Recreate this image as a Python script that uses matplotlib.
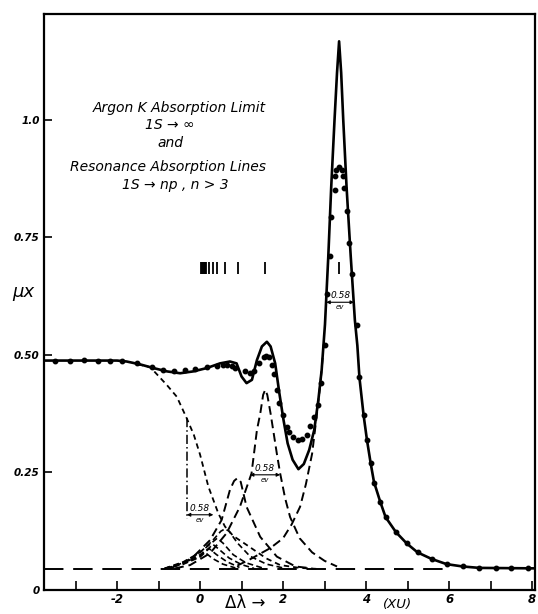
import numpy as np
import matplotlib
matplotlib.use("Agg")
import matplotlib.pyplot as plt

# ---------------- data (x in XU, y = mu x) ----------------
# fitted total curve (solid)
solid_x = [-3.76, -2.0, -1.77, -1.45, -1.12, -0.80, -0.48, -0.16, 0.16, 0.48, 0.72, 0.88,
           1.00, 1.12, 1.25, 1.37, 1.49, 1.61, 1.70, 1.81, 1.91, 2.01, 2.11, 2.23, 2.37,
           2.50, 2.63, 2.75, 2.85, 2.93, 3.01, 3.09, 3.16, 3.24, 3.30, 3.35, 3.40, 3.45,
           3.53, 3.63, 3.73, 3.79, 3.84, 3.94, 4.02, 4.11, 4.19, 4.34, 4.47, 4.72, 4.98,
           5.24, 5.58, 5.94, 6.33, 6.73, 8.07]
solid_y = [0.488, 0.488, 0.486, 0.480, 0.472, 0.465, 0.461, 0.465, 0.472, 0.482, 0.486, 0.482,
           0.454, 0.440, 0.447, 0.489, 0.518, 0.528, 0.518, 0.482, 0.419, 0.362, 0.312, 0.277, 0.257,
           0.268, 0.298, 0.340, 0.404, 0.468, 0.565, 0.710, 0.857, 1.000, 1.100, 1.167, 1.100, 1.000,
           0.857, 0.710, 0.574, 0.520, 0.452, 0.372, 0.320, 0.270, 0.230, 0.188, 0.155, 0.123, 0.099,
           0.080, 0.066, 0.055, 0.050, 0.047, 0.046]

# measured points (dots)
dots_x = [-3.49, -3.13, -2.80, -2.45, -2.17, -1.89, -1.53, -1.16, -0.90, -0.62, -0.36, -0.12,
          0.16, 0.40, 0.55, 0.64, 0.76, 0.84, 1.08, 1.20, 1.30, 1.41, 1.53, 1.59, 1.65, 1.73,
          1.78, 1.85, 1.91, 2.01, 2.09, 2.15, 2.25, 2.35, 2.46, 2.57, 2.65, 2.75, 2.83, 2.91,
          3.01, 3.05, 3.12, 3.16, 3.25, 3.25, 3.28, 3.35, 3.42, 3.44, 3.46, 3.55, 3.60, 3.65,
          3.79, 3.84, 3.94, 4.02, 4.11, 4.19, 4.34, 4.47, 4.72, 4.98, 5.24, 5.58, 5.94, 6.33,
          6.73, 7.13, 7.49, 7.91]
dots_y = [0.488, 0.488, 0.490, 0.488, 0.488, 0.488, 0.482, 0.475, 0.467, 0.465, 0.467, 0.470,
          0.474, 0.477, 0.479, 0.479, 0.477, 0.473, 0.465, 0.461, 0.465, 0.482, 0.495, 0.497, 0.495, 0.479,
          0.460, 0.426, 0.397, 0.372, 0.347, 0.335, 0.325, 0.320, 0.322, 0.330, 0.349, 0.369, 0.394, 0.440,
          0.521, 0.630, 0.710, 0.793, 0.850, 0.880, 0.893, 0.900, 0.893, 0.880, 0.856, 0.807, 0.739, 0.672,
          0.564, 0.452, 0.372, 0.320, 0.270, 0.228, 0.188, 0.155, 0.123, 0.099, 0.080, 0.066, 0.055, 0.050,
          0.047, 0.047, 0.047, 0.047]

# dashed components
limit_x = [-1.50, -1.20, -0.80, -0.56, -0.32, -0.15, 0.00, 0.20, 0.44, 0.60, 0.80, 1.12, 1.60, 1.93, 2.40, 2.80]
limit_y = [0.480, 0.474, 0.436, 0.411, 0.365, 0.330, 0.288, 0.220, 0.163, 0.135, 0.115, 0.096, 0.067, 0.053, 0.047, 0.045]

main_x = [0.90, 1.20, 1.69, 2.00, 2.21, 2.41, 2.55, 2.70, 2.81, 2.90, 2.96]
main_y = [0.052, 0.065, 0.089, 0.110, 0.140, 0.177, 0.225, 0.290, 0.370, 0.440, 0.500]

l157_x = [-0.60, -0.24, 0.24, 0.64, 0.96, 1.24, 1.37, 1.45, 1.52, 1.57, 1.62, 1.70, 1.78,
          1.85, 1.93, 2.05, 2.17, 2.40, 2.70, 3.00, 3.30]
l157_y = [0.046, 0.053, 0.078, 0.121, 0.177, 0.248, 0.340, 0.375, 0.415, 0.426, 0.415, 0.375, 0.330,
          0.290, 0.248, 0.195, 0.155, 0.110, 0.080, 0.062, 0.050]

l092_x = [-0.72, -0.24, 0.24, 0.52, 0.72, 0.82, 0.90, 0.98, 1.12, 1.45, 1.85, 2.30, 2.70]
l092_y = [0.046, 0.064, 0.106, 0.149, 0.213, 0.232, 0.238, 0.230, 0.177, 0.113, 0.071, 0.050, 0.046]

l060_x = [-0.80, -0.40, 0.00, 0.30, 0.50, 0.60, 0.70, 0.90, 1.20, 1.60, 2.00]
l060_y = [0.046, 0.058, 0.080, 0.105, 0.125, 0.130, 0.125, 0.100, 0.072, 0.055, 0.047]
l041_x = [-0.85, -0.40, 0.00, 0.25, 0.41, 0.55, 0.80, 1.10, 1.50]
l041_y = [0.046, 0.060, 0.080, 0.098, 0.110, 0.100, 0.075, 0.058, 0.047]
l031_x = [-0.85, -0.40, 0.00, 0.20, 0.31, 0.45, 0.70, 1.00, 1.30]
l031_y = [0.046, 0.058, 0.075, 0.088, 0.097, 0.087, 0.068, 0.054, 0.046]
l022_x = [-0.85, -0.40, 0.00, 0.22, 0.40, 0.65, 0.95]
l022_y = [0.046, 0.056, 0.072, 0.088, 0.075, 0.060, 0.048]
l012_x = [-0.85, -0.40, 0.00, 0.12, 0.30, 0.55, 0.85]
l012_y = [0.046, 0.055, 0.070, 0.080, 0.067, 0.055, 0.047]

baseline_y = 0.045
baseline_x = [-3.76, 5.95]

# line positions (tick row)
line_pos = [0.02, 0.045, 0.07, 0.09, 0.11, 0.13, 0.15, 0.22, 0.32, 0.42, 0.60, 0.92, 1.57, 3.35]

# ---------------- figure ----------------
fig = plt.figure(figsize=(5.38, 6.14), dpi=100)
ax = fig.add_axes([0.0818, 0.0391, 0.9126, 0.938])
ax.set_xlim(-3.76, 8.07)
ax.set_ylim(0, 1.225)

k = 'black'
ax.plot(solid_x, solid_y, color=k, lw=1.9, zorder=4)
ax.plot(dots_x, dots_y, 'o', color=k, ms=3.2, zorder=5)

ax.plot(baseline_x, [baseline_y, baseline_y], color=k, lw=1.4, dashes=(10, 5))
ax.plot(limit_x, limit_y, color=k, lw=1.3, dashes=(3, 2.2))
for cx, cy in [(main_x, main_y), (l157_x, l157_y), (l092_x, l092_y)]:
    ax.plot(cx, cy, color=k, lw=1.4, dashes=(4.5, 2.5))
for cx, cy in [(l060_x, l060_y), (l041_x, l041_y), (l031_x, l031_y),
               (l022_x, l022_y), (l012_x, l012_y)]:
    ax.plot(cx, cy, color=k, lw=1.2, dashes=(3.5, 2))

# limit marker (dash-dot)
ax.plot([-0.32, -0.32], [0.365, 0.15], color=k, lw=1.1, dashes=(6, 2, 1, 2))

ax.vlines(line_pos, 0.672, 0.697, color=k, lw=1.3)

# 0.58 ev width markers
widths = [(-0.32, 0.32, 0.160), (1.20, 1.93, 0.245), (3.04, 3.71, 0.612)]
for x0, x1, yy in widths:
    ax.annotate('', xy=(x0, yy), xytext=(x1, yy),
                arrowprops=dict(arrowstyle='<|-|>', color=k, lw=0.8,
                                mutation_scale=5, shrinkA=0, shrinkB=0))
    ax.text((x0 + x1) / 2, yy + 0.004, '0.58', fontsize=6.5, style='italic',
            ha='center', va='bottom')
    ax.text((x0 + x1) / 2, yy - 0.004, 'ev', fontsize=5, style='italic',
            ha='center', va='top')

# title text block
tf = dict(style='italic', fontsize=10, ha='center', va='center')
ax.text(-0.5, 1.025, 'Argon K Absorption Limit', **tf)
ax.text(-0.72, 0.99, '1S \u2192 \u221e', **tf)
ax.text(-0.72, 0.951, 'and', **tf)
ax.text(-0.77, 0.90, 'Resonance Absorption Lines', **tf)
ax.text(-0.6, 0.862, '1S \u2192 np , n > 3', **tf)

# axes styling
for s in ax.spines.values():
    s.set_linewidth(1.6)
ax.set_xticks(range(-3, 9))
ax.set_xticklabels(['' if v % 2 else str(v) for v in range(-3, 9)])
ax.set_yticks([0, 0.25, 0.5, 0.75, 1.0])
ax.set_yticklabels(['0', '0.25', '0.50', '0.75', '1.0'])
ax.tick_params(axis='x', direction='in', length=6.5, width=1.2, pad=2,
               labelsize=8.5)
ax.tick_params(axis='y', direction='in', length=6, width=1.2, pad=3,
               labelsize=7.5)
for lab in ax.get_xticklabels() + ax.get_yticklabels():
    lab.set_fontstyle('italic')
    lab.set_fontweight('bold')

ax.text(-0.043, 0.634, '\u03bcx', transform=ax.get_yaxis_transform(),
        fontsize=13, style='italic', ha='center', va='center')
ax.text(0.41, -0.022, '\u0394\u03bb \u2192', transform=ax.transAxes,
        fontsize=12, ha='center', va='center')
ax.text(0.72, -0.026, '(XU)', transform=ax.transAxes,
        fontsize=9.5, style='italic', ha='center', va='center')

fig.savefig('out.png', dpi=100)
